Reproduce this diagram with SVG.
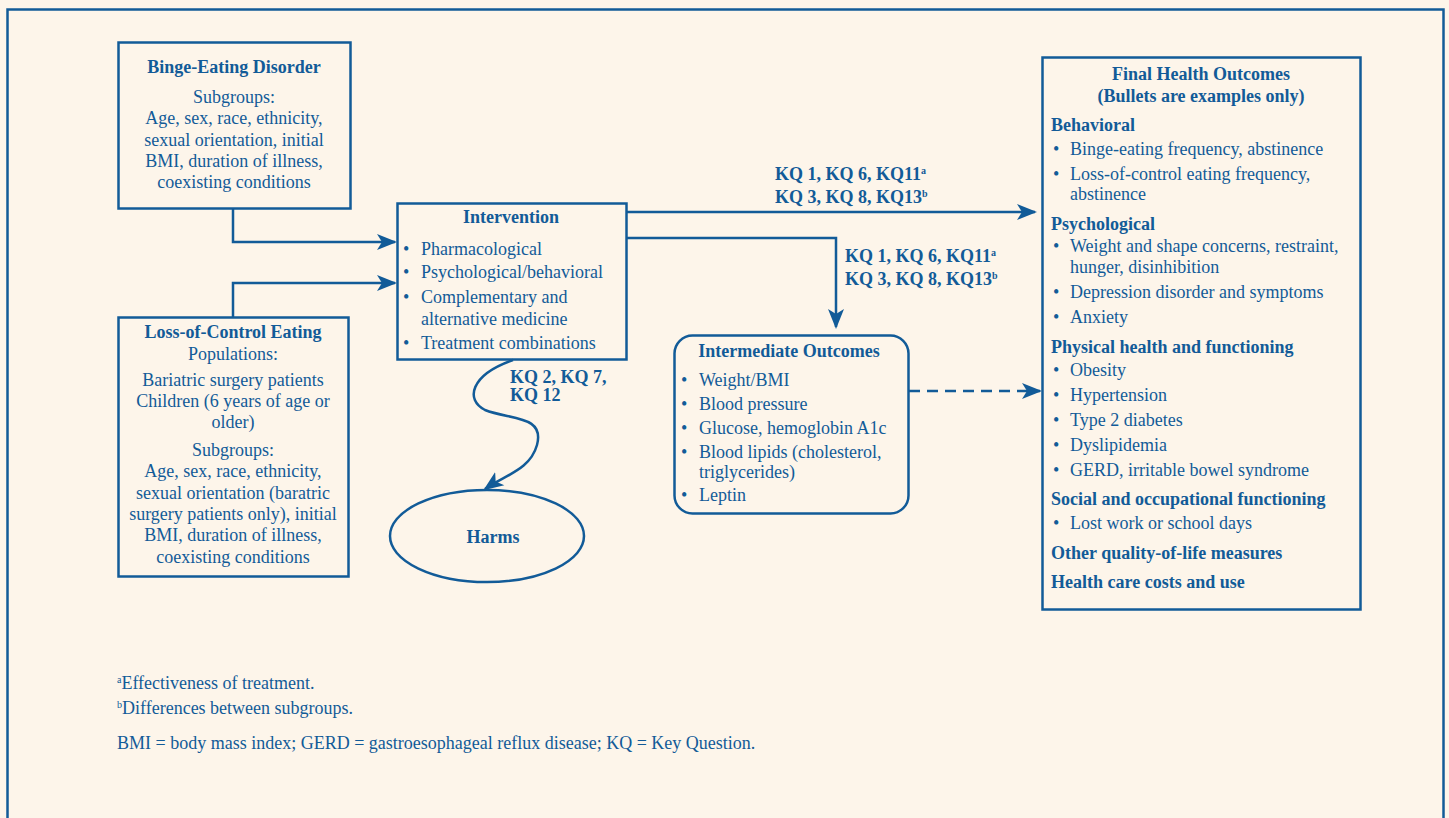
<svg xmlns="http://www.w3.org/2000/svg" width="1449" height="818" viewBox="0 0 1449 818">
<defs>
<style>
text{font-family:"Liberation Serif","Times New Roman",serif;fill:#125b98;font-size:18px}
.b{font-weight:bold}
.c{text-anchor:middle}
.box{fill:none;stroke:#125b98;stroke-width:2.5}
.ln{fill:none;stroke:#125b98;stroke-width:2.5}
.sup{font-size:10px}
.fn{font-size:18px}
</style>
<marker id="a2" viewBox="0 0 20 20" refX="18" refY="10" markerWidth="20" markerHeight="20" orient="auto" markerUnits="userSpaceOnUse">
<path d="M0,2 L20,10 L0,18 L5,10 Z" fill="#125b98"/>
</marker>
</defs>
<rect x="0" y="0" width="1449" height="818" fill="#fdf5ea"/>
<rect x="7.5" y="9.5" width="1436" height="830" fill="none" stroke="#125b98" stroke-width="2.5"/>

<g id="connectors">
<path class="ln" d="M233,209 V242 H395" marker-end="url(#a2)"/>
<path class="ln" d="M233,317 V283 H395" marker-end="url(#a2)"/>
<path class="ln" d="M627,212 H1035" marker-end="url(#a2)"/>
<path class="ln" d="M627,238 H836 V327" marker-end="url(#a2)"/>
<path class="ln" d="M909,391 H1040" stroke-dasharray="11,7" marker-end="url(#a2)"/>
<path class="ln" d="M513,360 C470,375 465,400 485,410 C510,420 545,415 537,445 C530,470 505,475 485,489" marker-end="url(#a2)"/>
<text class="b" x="775" y="180">KQ 1, KQ 6, KQ11<tspan class="sup" dy="-6">a</tspan></text>
<text class="b" x="775" y="203">KQ 3, KQ 8, KQ13<tspan class="sup" dy="-6">b</tspan></text>
<text class="b" x="845" y="262">KQ 1, KQ 6, KQ11<tspan class="sup" dy="-6">a</tspan></text>
<text class="b" x="845" y="285">KQ 3, KQ 8, KQ13<tspan class="sup" dy="-6">b</tspan></text>
<text class="b" x="510" y="383">KQ 2, KQ 7,</text>
<text class="b" x="510" y="401">KQ 12</text>
</g>

<g id="binge">
<rect class="box" x="118.5" y="42.5" width="232" height="166"/>
<text class="b c" x="234" y="73">Binge-Eating Disorder</text>
<text class="c" x="234" y="103">Subgroups:</text>
<text class="c" x="234" y="124">Age, sex, race, ethnicity,</text>
<text class="c" x="234" y="146">sexual orientation, initial</text>
<text class="c" x="234" y="167">BMI, duration of illness,</text>
<text class="c" x="234" y="188">coexisting conditions</text>
</g>

<g id="loc">
<rect class="box" x="118.5" y="317.5" width="230" height="259"/>
<text class="b c" x="233" y="338">Loss-of-Control Eating</text>
<text class="c" x="233" y="360">Populations:</text>
<text class="c" x="233" y="386">Bariatric surgery patients</text>
<text class="c" x="233" y="407">Children (6 years of age or</text>
<text class="c" x="233" y="428">older)</text>
<text class="c" x="233" y="456">Subgroups:</text>
<text class="c" x="233" y="477">Age, sex, race, ethnicity,</text>
<text class="c" x="233" y="499">sexual orientation (baratric</text>
<text class="c" x="233" y="520">surgery patients only), initial</text>
<text class="c" x="233" y="541">BMI, duration of illness,</text>
<text class="c" x="233" y="563">coexisting conditions</text>
</g>

<g id="intervention">
<rect class="box" x="397.5" y="203.5" width="229" height="156"/>
<text class="b c" x="511" y="223">Intervention</text>
<text x="403" y="255">•</text><text x="421" y="255">Pharmacological</text>
<text x="403" y="278">•</text><text x="421" y="278">Psychological/behavioral</text>
<text x="403" y="303">•</text><text x="421" y="303">Complementary and</text>
<text x="421" y="325">alternative medicine</text>
<text x="403" y="349">•</text><text x="421" y="349">Treatment combinations</text>
</g>

<g id="harms">
<ellipse class="box" cx="487" cy="536" rx="97" ry="46"/>
<text class="b c" x="493" y="543">Harms</text>
</g>

<g id="intermediate">
<rect class="box" x="674.5" y="335.5" width="234" height="178" rx="18"/>
<text class="b c" x="789" y="357">Intermediate Outcomes</text>
<text x="681" y="386">•</text><text x="699" y="386">Weight/BMI</text>
<text x="681" y="410">•</text><text x="699" y="410">Blood pressure</text>
<text x="681" y="434">•</text><text x="699" y="434">Glucose, hemoglobin A1c</text>
<text x="681" y="458">•</text><text x="699" y="458">Blood lipids (cholesterol,</text>
<text x="699" y="478">triglycerides)</text>
<text x="681" y="501">•</text><text x="699" y="501">Leptin</text>
</g>

<g id="final">
<rect class="box" x="1042.5" y="57.5" width="318" height="552"/>
<text class="b c" x="1201" y="80">Final Health Outcomes</text>
<text class="b c" x="1201" y="102">(Bullets are examples only)</text>
<text class="b" x="1051" y="131">Behavioral</text>
<text x="1053" y="155">•</text><text x="1070" y="155">Binge-eating frequency, abstinence</text>
<text x="1053" y="180">•</text><text x="1070" y="180">Loss-of-control eating frequency,</text>
<text x="1070" y="200">abstinence</text>
<text class="b" x="1051" y="230">Psychological</text>
<text x="1053" y="252">•</text><text x="1070" y="252">Weight and shape concerns, restraint,</text>
<text x="1070" y="273">hunger, disinhibition</text>
<text x="1053" y="298">•</text><text x="1070" y="298">Depression disorder and symptoms</text>
<text x="1053" y="323">•</text><text x="1070" y="323">Anxiety</text>
<text class="b" x="1051" y="353">Physical health and functioning</text>
<text x="1053" y="376">•</text><text x="1070" y="376">Obesity</text>
<text x="1053" y="401">•</text><text x="1070" y="401">Hypertension</text>
<text x="1053" y="426">•</text><text x="1070" y="426">Type 2 diabetes</text>
<text x="1053" y="451">•</text><text x="1070" y="451">Dyslipidemia</text>
<text x="1053" y="476">•</text><text x="1070" y="476">GERD, irritable bowel syndrome</text>
<text class="b" x="1051" y="505">Social and occupational functioning</text>
<text x="1053" y="529">•</text><text x="1070" y="529">Lost work or school days</text>
<text class="b" x="1051" y="559">Other quality-of-life measures</text>
<text class="b" x="1051" y="588">Health care costs and use</text>
</g>

<g id="footnotes">
<text class="fn" x="117" y="689"><tspan class="sup" dy="-6">a</tspan><tspan dy="6">Effectiveness of treatment.</tspan></text>
<text class="fn" x="117" y="714"><tspan class="sup" dy="-6">b</tspan><tspan dy="6">Differences between subgroups.</tspan></text>
<text class="fn" x="117" y="749">BMI = body mass index; GERD = gastroesophageal reflux disease; KQ = Key Question.</text>
</g>
</svg>
